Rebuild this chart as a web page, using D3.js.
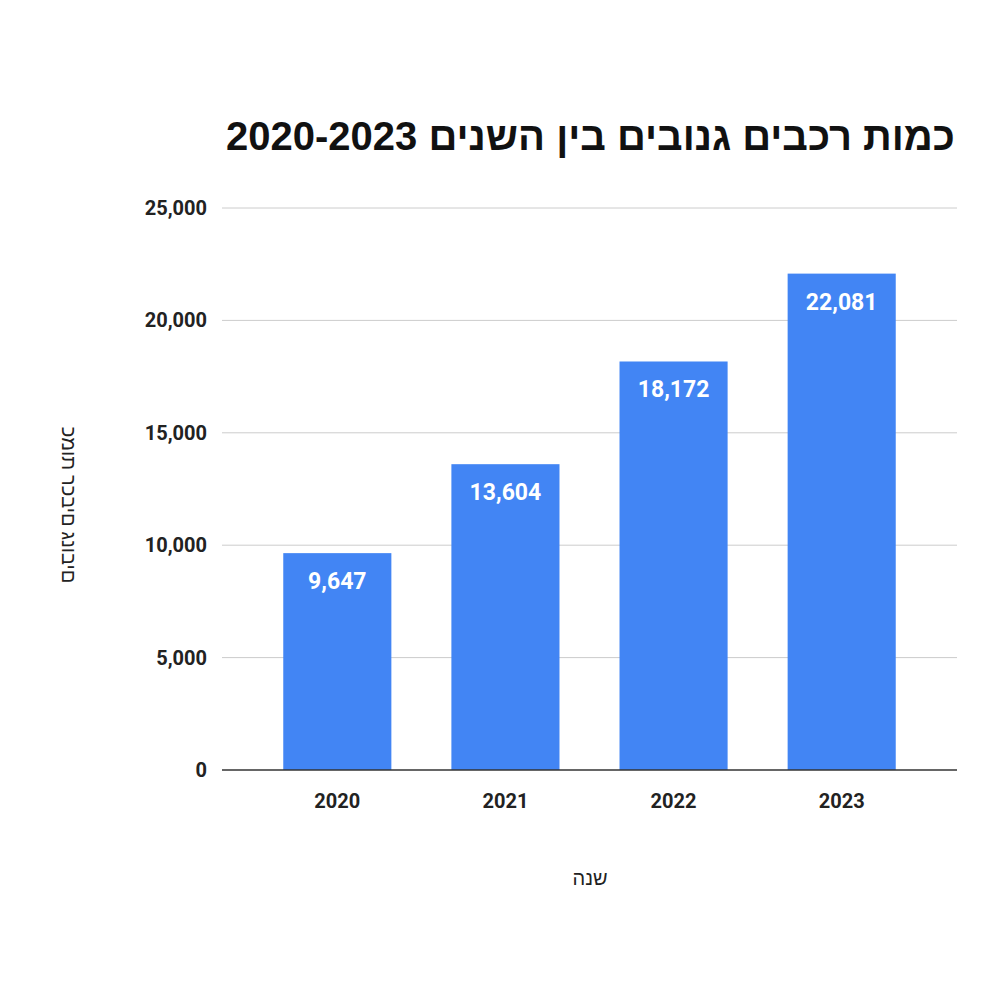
<!DOCTYPE html>
<html><head><meta charset="utf-8">
<script src="https://cdn.jsdelivr.net/npm/d3@7"></script>
<style>body{margin:0;background:#fff}</style>
</head><body>
<svg id="chart" width="1000" height="1000"></svg>
<script>
const years = ["2020", "2021", "2022", "2023"];
const stolen = [9647, 13604, 18172, 22081];
const yTicks = [0, 5000, 10000, 15000, 20000, 25000];

const svg = d3.select("#chart");
const font = "Roboto, 'Liberation Sans', Arial, sans-serif";

const x = d3.scaleBand().domain(years).range([253, 926]).paddingInner(0.357).paddingOuter(0.18);
const y = d3.scaleLinear().domain([0, 25000]).range([770, 208]);

// gridlines
svg.selectAll(".grid").data(yTicks.filter(d => d > 0)).join("line")
  .attr("x1", 222).attr("x2", 957)
  .attr("y1", d => y(d)).attr("y2", d => y(d))
  .attr("stroke", "#cccccc").attr("stroke-width", 1);

// y tick labels
svg.selectAll(".ytick").data(yTicks).join("text")
  .attr("x", 207).attr("y", d => y(d)).attr("dy", "0.35em")
  .attr("text-anchor", "end").attr("font-family", font)
  .attr("font-weight", "bold").attr("font-size", 20).attr("fill", "#222")
  .text(d => d3.format(",")(d));

// bars
svg.selectAll(".bar").data(stolen).join("rect")
  .attr("x", (d, i) => x(years[i])).attr("width", x.bandwidth())
  .attr("y", d => y(d)).attr("height", d => y(0) - y(d))
  .attr("fill", "#4285f4");

// value labels
svg.selectAll(".val").data(stolen).join("text")
  .attr("x", (d, i) => x(years[i]) + x.bandwidth() / 2)
  .attr("y", d => y(d) + 36)
  .attr("text-anchor", "middle").attr("font-family", font)
  .attr("font-weight", "bold").attr("font-size", 23).attr("fill", "#fff")
  .text(d => d3.format(",")(d));

// baseline
svg.append("line").attr("x1", 222).attr("x2", 957)
  .attr("y1", y(0)).attr("y2", y(0)).attr("stroke", "#333").attr("stroke-width", 1.5);

// x tick labels
svg.selectAll(".xtick").data(years).join("text")
  .attr("x", d => x(d) + x.bandwidth() / 2).attr("y", 808)
  .attr("text-anchor", "middle").attr("font-family", font)
  .attr("font-weight", "bold").attr("font-size", 20).attr("fill", "#222")
  .text(d => d);

// title
svg.append("text").attr("x", 955).attr("y", 150)
  .attr("text-anchor", "end").attr("font-family", "'Liberation Sans', Arial, sans-serif")
  .attr("font-weight", "bold").attr("font-size", 40).attr("fill", "#111")
  .text("כמות רכבים גנובים בין השנים 2020-2023");

// axis titles
svg.append("text").attr("x", 590).attr("y", 885)
  .attr("text-anchor", "middle").attr("font-family", font)
  .attr("font-size", 20).attr("fill", "#222").text("שנה");

svg.append("text").attr("transform", "translate(62,505) rotate(90)")
  .attr("text-anchor", "middle").attr("font-family", font)
  .style("direction", "ltr").style("unicode-bidi", "bidi-override")
  .attr("font-size", 20).attr("fill", "#222").text("כמות רכבים גנובים");
</script>
</body></html>
